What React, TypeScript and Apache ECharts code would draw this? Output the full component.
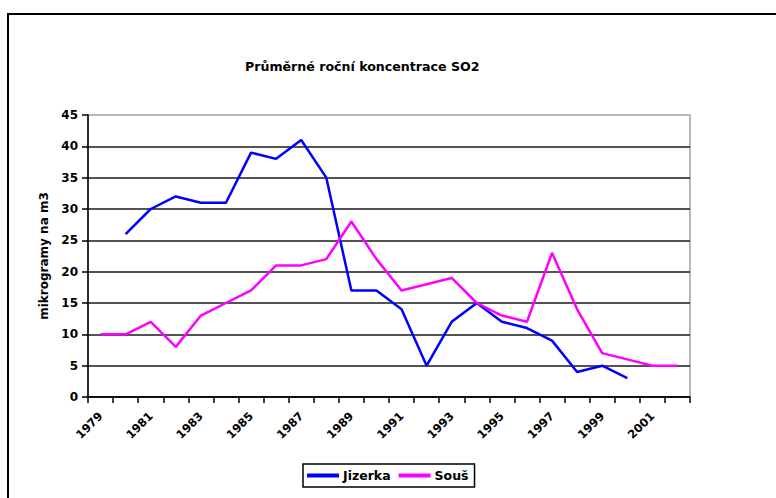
import React, { useEffect, useRef } from "react";
import * as echarts from "echarts";

const years = [
  "1979", "1980", "1981", "1982", "1983", "1984", "1985", "1986", "1987", "1988",
  "1989", "1990", "1991", "1992", "1993", "1994", "1995", "1996", "1997", "1998",
  "1999", "2000", "2001", "2002",
];
const jizerka: (number | null)[] = [
  null, 26, 30, 32, 31, 31, 39, 38, 41, 35,
  17, 17, 14, 5, 12, 15, 12, 11, 9, 4,
  5, 3, null, null,
];
const sous: (number | null)[] = [
  10, 10, 12, 8, 13, 15, 17, 21, 21, 22,
  28, 22, 17, 18, 19, 15, 13, 12, 23, 14,
  7, 6, 5, 5,
];
const title = "Průměrné roční koncentrace SO2";
const yName = "mikrogramy na m3";

const FONT = "DejaVu Sans";

export default function App() {
  const ref = useRef<HTMLDivElement>(null);
  useEffect(() => {
    if (!ref.current) return;
    const chart = echarts.init(ref.current, null, { renderer: "svg" });
    chart.setOption({
      animation: false,
      backgroundColor: "#ffffff",
      graphic: [
        {
          type: "rect",
          z: -10,
          shape: { x: 8, y: 14, width: 900, height: 600 },
          style: { fill: "none", stroke: "#000", lineWidth: 2 },
        },
        {
          type: "text",
          left: 245,
          top: 60,
          style: {
            text: title,
            font: `bold 12.6px "${FONT}"`,
            fill: "#000",
          },
        },
      ],
      grid: {
        left: 88,
        right: 86,
        top: 115,
        bottom: 101,
        show: true,
        borderColor: "#a0a0a0",
        borderWidth: 1.5,
      },
      legend: {
        left: 303,
        top: 464,
        orient: "horizontal",
        icon: "rect",
        itemWidth: 32,
        itemHeight: 4,
        itemGap: 8,
        padding: [5, 6, 5, 4],
        borderColor: "#000",
        borderWidth: 1.5,
        textStyle: { fontFamily: FONT, fontWeight: "bold", fontSize: 12.5, color: "#000", padding: [0, 0, 0, -1] },
        data: ["Jizerka", "Souš"],
      },
      xAxis: {
        type: "category",
        data: years,
        boundaryGap: true,
        axisLine: { lineStyle: { color: "#000", width: 1.5 } },
        axisTick: { show: true, interval: 0, length: 6, lineStyle: { color: "#000", width: 1.5 } },
        axisLabel: {
          interval: 1,
          rotate: 45,
          margin: 17,
          fontFamily: FONT,
          fontWeight: "bold",
          fontSize: 11.5,
          color: "#000",
        },
        splitLine: { show: false },
      },
      yAxis: {
        type: "value",
        min: 0,
        max: 45,
        interval: 5,
        name: yName,
        nameLocation: "middle",
        nameGap: 36,
        nameRotate: 90,
        nameTextStyle: { fontFamily: FONT, fontWeight: "bold", fontSize: 12, color: "#000" },
        axisLine: { show: true, lineStyle: { color: "#000", width: 1.5 } },
        axisTick: { show: true, inside: false, length: 6, lineStyle: { color: "#000", width: 1.5 } },
        axisLabel: { margin: 10, fontFamily: FONT, fontWeight: "bold", fontSize: 12, color: "#000" },
        splitLine: { show: true, showMaxLine: false, lineStyle: { color: "#1a1a1a", width: 1.5 } },
      },
      series: [
        {
          name: "Jizerka",
          type: "line",
          data: jizerka,
          symbol: "none",
          connectNulls: false,
          lineStyle: { color: "#0000ff", width: 2.5 },
          itemStyle: { color: "#0000ff" },
        },
        {
          name: "Souš",
          type: "line",
          data: sous,
          symbol: "none",
          lineStyle: { color: "#ff00ff", width: 2.5 },
          itemStyle: { color: "#ff00ff" },
        },
      ],
    });
    return () => chart.dispose();
  }, []);
  return (
    <div
      ref={ref}
      style={{ position: "fixed", left: 0, top: 0, width: 776, height: 498 }}
    />
  );
}
